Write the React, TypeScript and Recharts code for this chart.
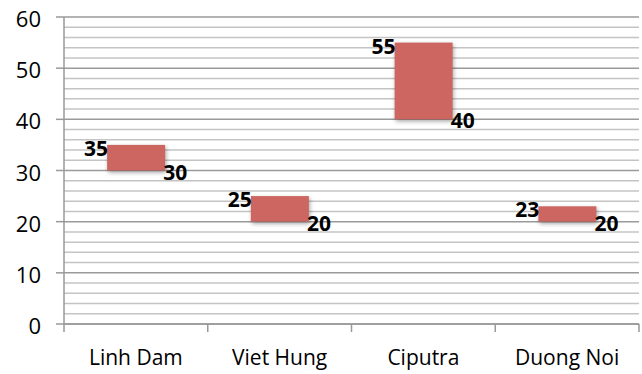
import React from 'react';
import { BarChart, Bar, XAxis, YAxis, CartesianGrid, LabelList } from 'recharts';

const categories = ['Linh Dam', 'Viet Hung', 'Ciputra', 'Duong Noi'];
const lowValues = [30, 20, 40, 20];
const highValues = [35, 25, 55, 23];
const majorTicks = [0, 10, 20, 30, 40, 50, 60];
const minorTicks = [2, 4, 6, 8, 12, 14, 16, 18, 22, 24, 26, 28, 32, 34, 36, 38, 42, 44, 46, 48, 52, 54, 56, 58];

const data = categories.map((name, i) => ({
  name,
  low: lowValues[i],
  high: highValues[i],
  range: [lowValues[i], highValues[i]],
}));

const FONT = '"Open Sans", "Liberation Sans", sans-serif';
const BAR_COLOR = '#CD6660';

const XTick = (props: any) => {
  const { x, y, payload, index, visibleTicksCount } = props;
  const off = payload && payload.offset ? payload.offset : 0;
  const isLast = index === (visibleTicksCount ?? categories.length) - 1;
  return (
    <g>
      <line x1={x - off} x2={x - off} y1={y - 8} y2={y} stroke="#999" strokeWidth={1.5} />
      {isLast && <line x1={x + off} x2={x + off} y1={y - 8} y2={y} stroke="#999" strokeWidth={1.5} />}
      <text x={x} y={y + 33} textAnchor="middle" fontFamily={FONT} fontSize={21} fill="#000">
        {payload.value}
      </text>
    </g>
  );
};

const YTick = (props: any) => {
  const { x, y, payload } = props;
  return (
    <text x={x} y={y + 10} textAnchor="end" fontFamily={FONT} fontSize={22} fill="#000">
      {payload.value}
    </text>
  );
};

const HighLabel = (props: any) => {
  const { x, y, value } = props;
  return (
    <text x={x + 1} y={y + 11} textAnchor="end" fontFamily={FONT} fontWeight="bold" fontSize={21} fill="#000">
      {value}
    </text>
  );
};

const LowLabel = (props: any) => {
  const { x, y, width, height, value } = props;
  return (
    <text x={x + width - 2} y={y + height + 9} textAnchor="start" fontFamily={FONT} fontWeight="bold" fontSize={21} fill="#000">
      {value}
    </text>
  );
};

const BarShape = (props: any) => {
  const { x, y, width, height } = props;
  return (
    <rect x={x} y={y} width={width} height={height} fill={BAR_COLOR}
      style={{ filter: 'drop-shadow(1px 2px 2px rgba(0,0,0,0.35))' }} />
  );
};

const applyScale = (scale: any, v: number) => {
  if (typeof scale === 'function') return scale(v);
  if (scale && typeof scale.map === 'function') return scale.map(v);
  if (scale && typeof scale.apply === 'function') return scale.apply(v);
  return undefined;
};

const minorGen = (args: any) => {
  const scale = args && args.yAxis && args.yAxis.scale;
  if (!scale) return [];
  return minorTicks.map((t) => applyScale(scale, t)).filter((v) => typeof v === 'number' && !isNaN(v));
};

export default function App() {
  return (
    <div style={{ position: 'absolute', left: 0, top: 0, background: '#fff' }}>
      <BarChart width={642} height={374} data={data} margin={{ top: 17, right: 3, left: 0, bottom: 0 }} barCategoryGap="30%">
        <CartesianGrid vertical={false} stroke="#c4c4c4" strokeWidth={1.5} horizontalCoordinatesGenerator={minorGen} />
        <CartesianGrid vertical={false} stroke="#9a9a9a" strokeWidth={1.5} />
        <XAxis dataKey="name" height={50} tickSize={8} tickMargin={0} tickLine={false}
          axisLine={{ stroke: '#999', strokeWidth: 1.5 }} tick={<XTick />} interval={0} />
        <YAxis width={64} domain={[0, 60]} ticks={majorTicks} tickSize={8} tickMargin={15}
          tickLine={{ stroke: '#999', strokeWidth: 1.5 }} axisLine={{ stroke: '#999', strokeWidth: 1.5 }}
          tick={<YTick />} interval={0} />
        <Bar dataKey="range" fill={BAR_COLOR} isAnimationActive={false} shape={<BarShape />}>
          <LabelList dataKey="high" content={<HighLabel />} />
          <LabelList dataKey="low" content={<LowLabel />} />
        </Bar>
      </BarChart>
    </div>
  );
}
